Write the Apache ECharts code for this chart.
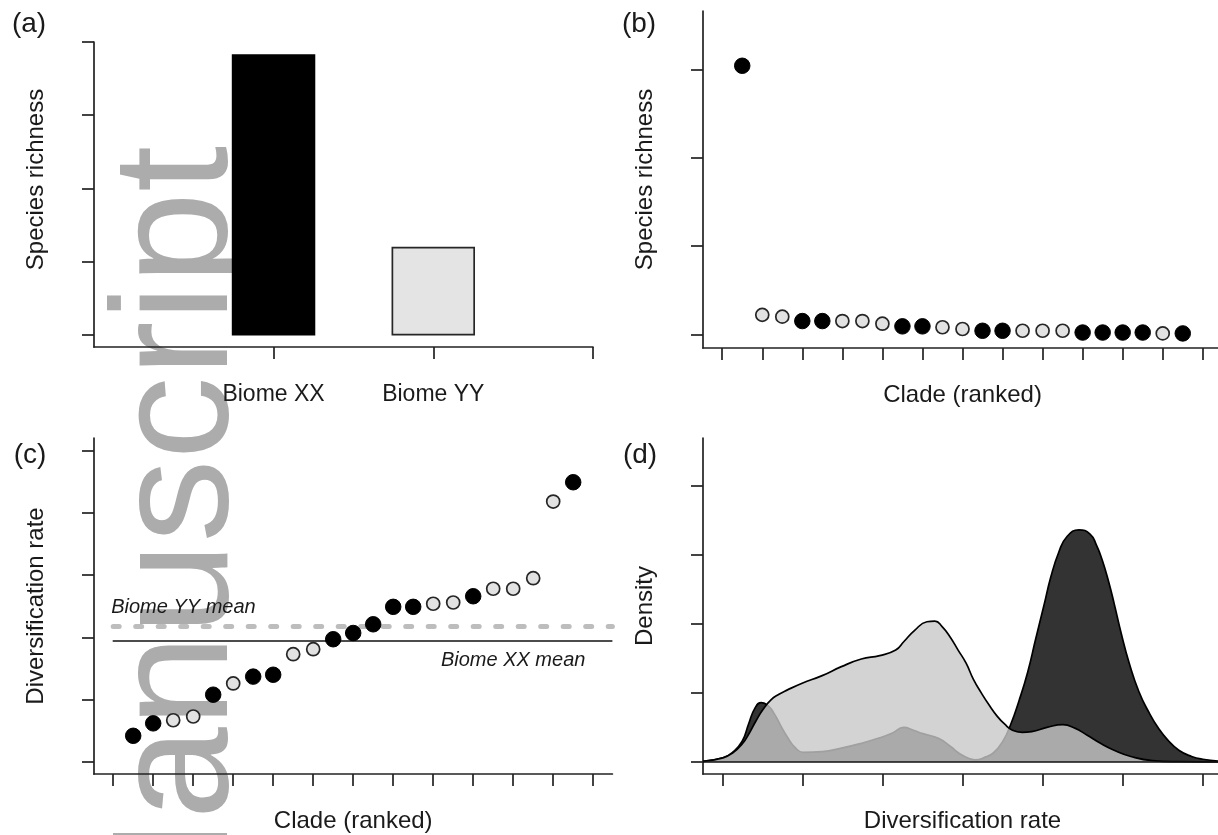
<!DOCTYPE html>
<html>
<head>
<meta charset="utf-8">
<title>Richness and diversification of two biomes</title>
<script src="https://cdn.jsdelivr.net/npm/echarts@6/dist/echarts.min.js"></script>
<style>
  html, body { margin: 0; padding: 0; background: #ffffff; }
  #chart { width: 1218px; height: 835px; }
</style>
</head>
<body>
<div id="chart"></div>
<script>
// ---- (a) total species richness per biome ----
const biomeNames = ['Biome XX', 'Biome YY'];
const biomePositions = [1, 2];
const biomeRichness = [382, 119];
const biomeAxisTicks = [1, 2, 3];
const biomeRichnessTicks = [0, 100, 200, 300, 400];

// ---- (b) species richness of each clade, ranked ----
const cladeRichness = [304, 22, 20, 15, 15, 15, 15, 12, 9, 9, 8, 6, 4, 4, 4, 4, 4, 2, 2, 2, 2, 1, 1];
const cladeRichnessBiome = ['XX', 'YY', 'YY', 'XX', 'XX', 'YY', 'YY', 'YY', 'XX', 'XX', 'YY', 'YY',
  'XX', 'XX', 'YY', 'YY', 'YY', 'XX', 'XX', 'XX', 'XX', 'YY', 'XX'];
const cladeRichnessTicks = [0, 100, 200, 300];

// ---- (c) diversification rate of each clade, ranked ----
const cladeRate = [0.42, 0.62, 0.67, 0.73, 1.08, 1.26, 1.37, 1.40, 1.73, 1.81, 1.97, 2.07,
  2.21, 2.49, 2.49, 2.54, 2.56, 2.66, 2.78, 2.78, 2.95, 4.18, 4.49];
const cladeRateBiome = ['XX', 'XX', 'YY', 'YY', 'XX', 'YY', 'XX', 'XX', 'YY', 'YY', 'XX', 'XX',
  'XX', 'XX', 'XX', 'YY', 'YY', 'XX', 'YY', 'YY', 'YY', 'YY', 'XX'];
const cladeRateTicks = [0, 1, 2, 3, 4, 5];
const rankTicks = [0, 2, 4, 6, 8, 10, 12, 14, 16, 18, 20, 22, 24];

// ---- (d) density of diversification rates per biome ----
const densityXX = [
  [-0.25, 0.01], [0, 0.06], [0.12, 0.14], [0.24, 0.3], [0.32, 0.55], [0.4, 0.78], [0.48, 0.86],
  [0.56, 0.82], [0.64, 0.7], [0.72, 0.53], [0.8, 0.37], [0.9, 0.21], [1.0, 0.14], [1.24, 0.15],
  [1.48, 0.2], [1.73, 0.27], [1.96, 0.35], [2.12, 0.42], [2.26, 0.5], [2.38, 0.46], [2.5, 0.41],
  [2.7, 0.34], [2.85, 0.22], [2.96, 0.12], [3.08, 0.05], [3.16, 0.03], [3.26, 0.06], [3.38, 0.13],
  [3.5, 0.3], [3.6, 0.55], [3.7, 0.88], [3.81, 1.3], [3.91, 1.78], [4.01, 2.25], [4.1, 2.68],
  [4.2, 3.04], [4.3, 3.26], [4.45, 3.36], [4.59, 3.3], [4.67, 3.14], [4.74, 2.93], [4.82, 2.62],
  [4.89, 2.3], [4.98, 1.86], [5.08, 1.43], [5.2, 1.02], [5.33, 0.71], [5.45, 0.48], [5.56, 0.32],
  [5.7, 0.17], [5.86, 0.08], [6.0, 0.04], [6.24, 0.01]
];
const densityYY = [
  [-0.25, 0.01], [0, 0.06], [0.12, 0.13], [0.24, 0.26], [0.33, 0.42], [0.41, 0.59], [0.5, 0.76],
  [0.6, 0.9], [0.7, 0.98], [0.8, 1.04], [0.99, 1.14], [1.24, 1.25], [1.48, 1.38], [1.73, 1.49],
  [1.96, 1.54], [2.16, 1.62], [2.26, 1.74], [2.4, 1.91], [2.55, 2.03], [2.65, 2.04], [2.74, 1.96],
  [2.84, 1.81], [2.94, 1.62], [3.04, 1.43], [3.13, 1.2], [3.23, 1.0], [3.33, 0.82], [3.43, 0.66],
  [3.52, 0.55], [3.62, 0.46], [3.74, 0.43], [3.86, 0.44], [4.05, 0.5], [4.25, 0.54], [4.4, 0.49],
  [4.55, 0.39], [4.72, 0.27], [4.89, 0.17], [5.1, 0.08], [5.37, 0.02], [5.7, 0.005], [6.24, 0]
];
const densityRateTicks = [0, 1, 2, 3, 4, 5, 6];
const densityTicks = [0, 1, 2, 3, 4];

// ---- styling ----
const FONT = "'Liberation Sans', Arial, Helvetica, sans-serif";
const INK = '#1a1a1a';
const AXIS = '#222222';

function axisParts(ticks) {
  return {
    axisLine: { show: true, onZero: false, lineStyle: { color: AXIS, width: 1.7 } },
    axisTick: { show: true, inside: false, length: 12, customValues: ticks,
      lineStyle: { color: AXIS, width: 1.7 } },
    axisLabel: { show: false },
    splitLine: { show: false }
  };
}
const titleStyle = { fontFamily: FONT, fontSize: 24, color: INK };

function byBiome(values, biomes, code) {
  const out = [];
  values.forEach((v, i) => { if (biomes[i] === code) out.push([i + 1, v]); });
  return out;
}
function mean(values, biomes, code) {
  const sel = values.filter((v, i) => biomes[i] === code);
  return sel.reduce((s, v) => s + v, 0) / sel.length;
}
const meanRateXX = mean(cladeRate, cladeRateBiome, 'XX');
const meanRateYY = mean(cladeRate, cladeRateBiome, 'YY');

// filled black discs and pale grey discs with a dark rim
const blackSeries = { symbolSize: 15.5, itemStyle: { color: '#000', borderColor: '#000', borderWidth: 1, opacity: 1 } };
const greySeries = { symbolSize: 13, itemStyle: { color: '#e2e2e2', borderColor: '#262626', borderWidth: 1.7, opacity: 1 } };

function panelLabel(text, x, y) {
  return { type: 'text', x: x, y: y, silent: true,
    style: { text: text, font: '28px ' + FONT, fill: INK, align: 'center', verticalAlign: 'middle',
      textAlign: 'center', textVerticalAlign: 'middle' } };
}

const chart = echarts.init(document.getElementById('chart'), null, { renderer: 'canvas' });

const option = {
  animation: false,
  backgroundColor: '#ffffff',
  textStyle: { fontFamily: FONT },
  grid: [
    { left: 94, top: 42, width: 499, height: 305, outerBoundsMode: 'none' },
    { left: 703, top: 11, width: 519, height: 337, outerBoundsMode: 'none' },
    { left: 94, top: 438, width: 518.4, height: 336, outerBoundsMode: 'none' },
    { left: 703, top: 438, width: 519, height: 336, outerBoundsMode: 'none' }
  ],
  xAxis: [
    Object.assign({ type: 'value', gridIndex: 0, min: -0.124, max: 3 }, axisParts(biomeAxisTicks), {
      axisLabel: { show: true, customValues: biomePositions, margin: 36,
        formatter: v => biomeNames[biomePositions.indexOf(v)],
        fontFamily: FONT, fontSize: 23, color: INK }
    }),
    Object.assign({ type: 'value', gridIndex: 1, min: -0.96, max: 24.96,
      name: 'Clade (ranked)', nameLocation: 'middle', nameGap: 35, nameTextStyle: titleStyle },
      axisParts(rankTicks)),
    Object.assign({ type: 'value', gridIndex: 2, min: -0.96, max: 24.96,
      name: 'Clade (ranked)', nameLocation: 'middle', nameGap: 35, nameTextStyle: titleStyle },
      axisParts(rankTicks)),
    Object.assign({ type: 'value', gridIndex: 3, min: -0.25, max: 6.24,
      name: 'Diversification rate', nameLocation: 'middle', nameGap: 35, nameTextStyle: titleStyle },
      axisParts(densityRateTicks))
  ],
  yAxis: [
    Object.assign({ type: 'value', gridIndex: 0, min: -17, max: 400,
      name: 'Species richness', nameLocation: 'middle', nameGap: 46,
      nameTextStyle: Object.assign({ padding: [0, 0, 0, 30] }, titleStyle) },
      axisParts(biomeRichnessTicks)),
    Object.assign({ type: 'value', gridIndex: 1, min: -15.5, max: 366,
      name: 'Species richness', nameLocation: 'middle', nameGap: 46, nameTextStyle: titleStyle },
      axisParts(cladeRichnessTicks)),
    Object.assign({ type: 'value', gridIndex: 2, min: -0.193, max: 5.2,
      name: 'Diversification rate', nameLocation: 'middle', nameGap: 46, nameTextStyle: titleStyle },
      axisParts(cladeRateTicks)),
    Object.assign({ type: 'value', gridIndex: 3, min: -0.174, max: 4.69,
      name: 'Density', nameLocation: 'middle', nameGap: 46, nameTextStyle: titleStyle },
      axisParts(densityTicks))
  ],
  graphic: [
    {
      // large grey stamp running up the left column
      type: 'text', x: 181.5, y: 957.7, rotation: Math.PI / 2, z: -10, silent: true,
      style: { text: 'Manuscript', font: "166px " + FONT, fill: '#acacac',
        align: 'left', verticalAlign: 'middle', textAlign: 'left', textVerticalAlign: 'middle' }
    },
    panelLabel('(a)', 29, 24),
    panelLabel('(b)', 639, 24),
    panelLabel('(c)', 30, 455),
    panelLabel('(d)', 640, 455)
  ],
  series: [
    // (a) bars
    {
      type: 'custom', xAxisIndex: 0, yAxisIndex: 0, silent: true, z: 3,
      data: biomePositions.map((p, i) => [p, biomeRichness[i]]),
      renderItem: function (params, api) {
        const half = 0.256;
        const topLeft = api.coord([api.value(0) - half, api.value(1)]);
        const bottomRight = api.coord([api.value(0) + half, 0]);
        const dark = params.dataIndex === 0;
        return {
          type: 'rect',
          shape: { x: topLeft[0], y: topLeft[1], width: bottomRight[0] - topLeft[0],
            height: bottomRight[1] - topLeft[1] },
          style: { fill: dark ? '#000000' : '#e4e4e4', stroke: dark ? '#000000' : '#262626', lineWidth: 1.7 }
        };
      }
    },
    // (b) clade richness
    Object.assign({ type: 'scatter', xAxisIndex: 1, yAxisIndex: 1, silent: true, z: 4,
      data: byBiome(cladeRichness, cladeRichnessBiome, 'XX') }, blackSeries),
    Object.assign({ type: 'scatter', xAxisIndex: 1, yAxisIndex: 1, silent: true, z: 4,
      data: byBiome(cladeRichness, cladeRichnessBiome, 'YY') }, greySeries),
    // (c) clade diversification rates with biome means
    Object.assign({
      type: 'scatter', xAxisIndex: 2, yAxisIndex: 2, silent: true, z: 4,
      data: byBiome(cladeRate, cladeRateBiome, 'XX'),
      markLine: {
        silent: true, z: 1, symbol: ['none', 'none'], animation: false,
        data: [[
          { coord: [-0.025, meanRateXX], lineStyle: { color: '#111', width: 1.7, type: 'solid' },
            label: { show: true, position: 'insideEndBottom', distance: [27, 9],
              formatter: 'Biome XX mean', fontFamily: FONT, fontSize: 20, fontStyle: 'italic', color: INK } },
          { coord: [24.96, meanRateXX] }
        ]]
      }
    }, blackSeries),
    Object.assign({
      type: 'scatter', xAxisIndex: 2, yAxisIndex: 2, silent: true, z: 4,
      data: byBiome(cladeRate, cladeRateBiome, 'YY'),
      markLine: {
        silent: true, z: 1, symbol: ['none', 'none'], animation: false,
        data: [[
          { coord: [0, meanRateYY], lineStyle: { color: '#bdbdbd', width: 5, type: [6, 16.5], cap: 'round' },
            label: { show: true, position: 'insideStartTop', distance: [-2, 9],
              formatter: 'Biome YY mean', fontFamily: FONT, fontSize: 20, fontStyle: 'italic', color: INK } },
          { coord: [24.96, meanRateYY] }
        ]]
      }
    }, greySeries),
    // (d) density curves: Biome XX underneath, Biome YY on top
    {
      type: 'line', xAxisIndex: 3, yAxisIndex: 3, silent: true, z: 2,
      data: densityXX, showSymbol: false, symbol: 'none', smooth: 0.5,
      lineStyle: { color: '#000', width: 1.7 },
      areaStyle: { color: 'rgba(0,0,0,0.8)', opacity: 1 },
      markLine: {
        silent: true, z: 6, symbol: ['none', 'none'], animation: false, label: { show: false },
        lineStyle: { color: '#111', width: 1.7, type: 'solid' },
        data: [{ yAxis: 0 }]
      }
    },
    {
      type: 'line', xAxisIndex: 3, yAxisIndex: 3, silent: true, z: 3,
      data: densityYY, showSymbol: false, symbol: 'none', smooth: 0.5,
      lineStyle: { color: '#000', width: 1.7 },
      areaStyle: { color: 'rgba(200,200,200,0.8)', opacity: 1 }
    }
  ]
};

chart.setOption(option);
</script>
</body>
</html>
